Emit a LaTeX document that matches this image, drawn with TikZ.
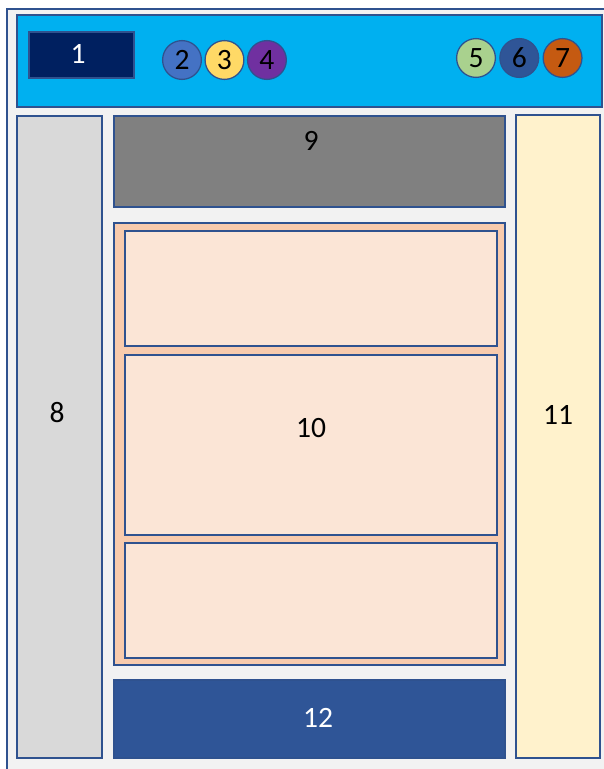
\documentclass[tikz,border=0pt]{standalone}
\usepackage{fontspec}
\setmainfont{Carlito}
\usepackage{xcolor}
\definecolor{lineblue}{HTML}{2F528F}
\definecolor{pagegrey}{HTML}{F2F2F2}
\definecolor{barcyan}{HTML}{00B0F0}
\definecolor{navy}{HTML}{002060}
\definecolor{darkblue}{HTML}{2F5597}
\definecolor{midblue}{HTML}{4472C4}
\definecolor{softyellow}{HTML}{FFD966}
\definecolor{purple}{HTML}{7030A0}
\definecolor{softgreen}{HTML}{A9D18E}
\definecolor{rust}{HTML}{C55A11}
\definecolor{sidegrey}{HTML}{D9D9D9}
\definecolor{headgrey}{HTML}{808080}
\definecolor{peach}{HTML}{F8CBAD}
\definecolor{lightpeach}{HTML}{FBE5D6}
\definecolor{cream}{HTML}{FFF2CC}
\usetikzlibrary{positioning, fit}

\begin{document}
\begin{tikzpicture}[
  x=0.025cm, y=-0.025cm,
  panel/.style={rectangle, draw=lineblue, line width=1.1pt, inner sep=0pt},
  num/.style={inner sep=0pt, font=\fontsize{21}{25}\selectfont},
  dot/.style={circle, draw=lineblue, line width=0.9pt, minimum size=0.97cm,
    inner sep=0pt, font=\fontsize{21}{25}\selectfont}
]
\clip (0,0) rectangle (604,769);
\fill[white] (0,0) rectangle (604,769);

% page frame
\node[panel, fill=pagegrey, fit={(7,9) (608,775)}] (page) {};

% top bar
\node[panel, fill=barcyan, fit={(17,15) (602,107)}] (topbar) {};
\node[panel, fill=navy, fit={(29,32) (134,78)}] (logo) {};
\node[num, text=white] (t1) at (78,54) {1};

\node[dot, fill=midblue] (c2) at (182,60) {2};
\node[dot, fill=softyellow, right=0.06cm of c2] (c3) {3};
\node[dot, fill=purple, right=0.06cm of c3] (c4) {4};

\node[dot, fill=softgreen] (c5) at (476,58) {5};
\node[dot, fill=darkblue, right=0.08cm of c5] (c6) {6};
\node[dot, fill=rust, right=0.08cm of c6] (c7) {7};

% side columns
\node[panel, fill=sidegrey, fit={(17,116) (102,758)}] (leftbar) {};
\node[num] (t8) at (57,413) {8};
\node[panel, fill=cream, fit={(516,115) (600,758)}] (rightbar) {};
\node[num] (t11) at (558,415) {11};

% header
\node[panel, fill=headgrey, fit={(114,116) (505,207)}] (header) {};
\node[num] (t9) at (311,141) {9};

% content
\node[panel, fill=peach, fit={(114,223) (505,665)}] (content) {};
\node[panel, fill=lightpeach, fit={(125,231) (497,346)}] (panelA) {};
\node[panel, fill=lightpeach, fit={(125,355) (497,535)}] (panelB) {};
\node[panel, fill=lightpeach, fit={(125,543) (497,658)}] (panelC) {};
\node[num] (t10) at (311,428) {10};

% footer
\node[panel, fill=darkblue, fit={(114,680) (505,758)}] (footer) {};
\node[num, text=white] (t12) at (318,718) {12};
\end{tikzpicture}
\end{document}
